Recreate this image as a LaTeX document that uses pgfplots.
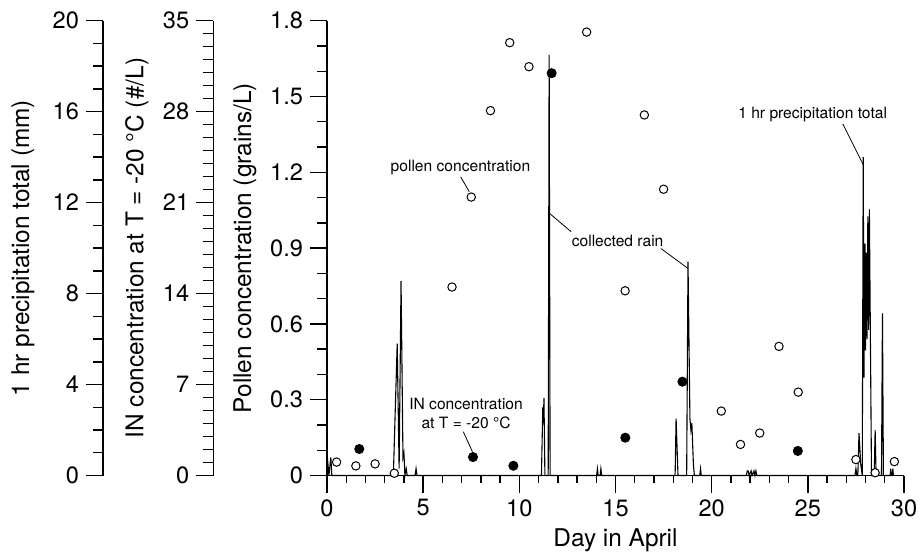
\documentclass[border=0pt]{standalone}
\usepackage{fontspec}
\setmainfont{TeX Gyre Heros}
\usepackage{pgfplots}
\pgfplotsset{compat=1.18}

% 1 px of the reference = 0.5pt; main axis origin = (0,0)
\pgfplotsset{
  base/.style={
    scale only axis, anchor=south west, height=227.4pt,
    /pgf/number format/assume math mode=true,
    tick label style={font=\fontsize{11.8}{14}\selectfont},
    label style={font=\fontsize{12.2}{14}\selectfont},
    axis line style={-, line width=0.7pt},
    every tick/.style={black, line width=0.7pt},
    tick align=outside, major tick length=8.5pt, minor tick length=5pt,
  },
  overlay/.style={
    scale only axis, anchor=south west, at={(0pt,0pt)},
    width=288.5pt, height=227.4pt, xmin=0, xmax=30, hide axis, clip=false,
  },
  sideaxis/.style={
    base, width=1pt, xmin=0, xmax=1,
    axis x line*=bottom, axis y line*=left,
    x axis line style={draw=none}, xtick=\empty,
    tick align=outside,
    ylabel style={at={(axis description cs:0,0.5)}, anchor=center},
  },
}

\pgfplotstableread{
x mm
0 0
0.02 0.8
0.1 0
0.2 0.8
0.25 0
3.45 0
3.65 5.8
3.75 0.3
3.85 8.55
3.95 0.8
4.0 1.0
4.05 0
4.12 0.3
4.17 0
4.58 0
4.63 0.3
4.68 0
11.15 0
11.22 3.0
11.25 2.3
11.28 3.4
11.33 0
11.5 0
11.55 18.5
11.6 0
14.02 0
14.06 0.3
14.1 0
14.2 0
14.24 0.3
14.28 0
18.1 0
18.15 2.5
18.25 0
18.7 0
18.77 9.4
18.87 2.5
18.92 2.0
18.97 2.3
19.05 0.5
19.1 0
19.38 0
19.42 0.3
19.46 0
21.8 0
21.85 0.2
21.9 0.2
21.95 0
22.05 0.2
22.1 0
22.2 0.2
22.25 0
22.3 0.2
22.35 0
27.45 0
27.5 0.3
27.55 0
27.6 0
27.66 1.86
27.75 0.5
27.83 0
27.88 14.0
27.92 4.3
27.97 10.2
28.0 5.5
28.04 9.8
28.08 6.0
28.12 11.4
28.16 6.4
28.2 11.7
28.31 0
28.45 0
28.5 2.0
28.55 0
28.83 0
28.88 7.13
28.93 0
29.28 0
29.31 0.3
29.34 0
29.39 0
29.42 0.3
29.45 0
}\precip

\pgfplotstableread{
x pollen
0.5 0.053
1.5 0.038
2.5 0.046
3.5 0.009
6.5 0.746
7.5 1.102
8.5 1.444
9.5 1.713
10.5 1.618
13.5 1.755
15.5 0.731
16.5 1.427
17.5 1.133
20.5 0.255
21.5 0.123
22.5 0.168
23.5 0.511
24.5 0.330
27.5 0.063
28.5 0.011
29.5 0.055
}\pollen

\pgfplotstableread{
x in
1.68 2.04
7.59 1.42
9.69 0.75
11.68 30.96
15.51 2.91
18.48 7.22
24.48 1.89
}\innuc

\begin{document}
\begin{tikzpicture}
\useasboundingbox (-163.5pt,-38.25pt) rectangle (296.5pt,237.75pt);

% precipitation axis (mm)
\begin{axis}[sideaxis, at={(-112pt,0pt)},
  ymin=0, ymax=20, ytick={0,4,8,12,16,20}, minor y tick num=3,
  ylabel={1 hr precipitation total (mm)},
  ylabel style={yshift=40pt}]
\end{axis}

% IN concentration axis
\begin{axis}[sideaxis, at={(-56.85pt,0pt)},
  ymin=0, ymax=35, ytick={0,7,14,21,28,35}, minor y tick num=6,
  ylabel={IN concentration at T = -20 °C (\#/L)},
  ylabel style={yshift=38.2pt}]
\end{axis}

% precipitation line
\begin{axis}[overlay, ymin=0, ymax=20]
\addplot[black, line width=0.55pt] table[x=x, y=mm] {\precip};
\end{axis}

% main axis: pollen
\begin{axis}[base, at={(0pt,0pt)}, width=288.5pt,
  xmin=0, xmax=30, ymin=0, ymax=1.8,
  axis x line*=bottom, axis y line*=left,
  xtick={0,5,10,15,20,25,30},
  extra x ticks={1,2,3,4,6,7,8,9,11,12,13,14,16,17,18,19,21,22,23,24,26,27,28,29},
  extra x tick style={major tick length=3.6pt, xticklabel={}},
  ytick={0,0.3,0.6,0.9,1.2,1.5,1.8}, minor y tick num=2,
  xlabel={Day in April},
  xlabel style={at={(axis description cs:0.5,0)}, anchor=base, yshift=-35.6pt},
  ylabel={Pollen concentration (grains/L)},
  ylabel style={at={(axis description cs:0,0.5)}, anchor=center, yshift=41pt},
  clip=false]
\addplot[only marks, mark=*, mark size=2.1pt,
  mark options={fill=white, draw=black, line width=0.5pt}]
  table[x=x, y=pollen] {\pollen};

\begin{scope}[font=\fontsize{7.8}{9.36}\selectfont, line width=0.4pt]
\node at (axis cs:6.94,1.220) {pollen concentration};
\draw (axis cs:6.95,1.182) -- (axis cs:7.40,1.123);
\node at (axis cs:15.11,0.929) {collected rain};
\draw (axis cs:12.69,0.965) -- (axis cs:11.56,1.038);
\draw (axis cs:17.37,0.898) -- (axis cs:18.76,0.820);
\node at (axis cs:25.25,1.430) {1 hr precipitation total};
\draw (axis cs:26.82,1.391) -- (axis cs:27.89,1.229);
\node[align=center] at (axis cs:7.23,0.246) {IN concentration\\at T = -20 °C};
\draw (axis cs:7.09,0.173) -- (axis cs:7.56,0.094);
\end{scope}
\end{axis}

% IN concentration points
\begin{axis}[overlay, ymin=0, ymax=35]
\addplot[only marks, mark=*, mark size=2.3pt, black]
  table[x=x, y=in] {\innuc};
\end{axis}
\end{tikzpicture}
\end{document}
